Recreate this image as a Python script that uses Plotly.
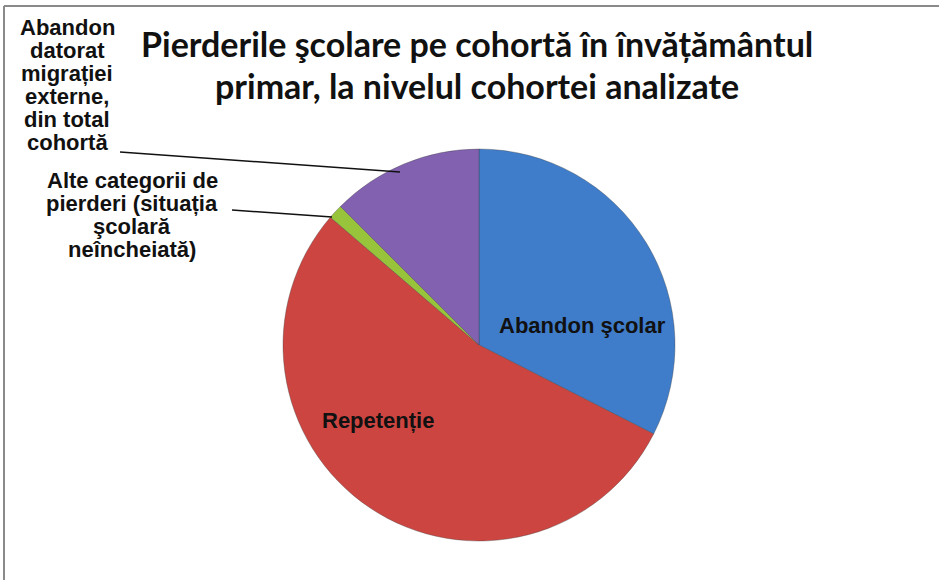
import plotly.graph_objects as go

# ---- data ----
categories = [
    "Abandon şcolar",
    "Repetenție",
    "Alte categorii de pierderi (situația şcolară neîncheiată)",
    "Abandon datorat migrației externe, din total cohortă",
]
values = [32.5, 53.8, 1.2, 12.5]
colors = ["#3f7dca", "#cc4540", "#98c43c", "#8161b0"]

title_lines = ["Pierderile şcolare pe cohortă în învățământul",
               "primar, la nivelul cohortei analizate"]
label_migr_lines = ["Abandon", "datorat", "migrației", "externe,", "din total", "cohortă"]
label_alte_lines = ["Alte categorii de", "pierderi (situația", "şcolară", "neîncheiată)"]

W, H = 939, 580


def px(x):
    return x / W


def py(y):
    return (H - y) / H


fig = go.Figure()
fig.add_trace(go.Pie(
    labels=categories,
    values=values,
    sort=False,
    direction="clockwise",
    rotation=0,
    marker=dict(colors=colors, line=dict(color="rgba(60,60,60,0.35)", width=1)),
    textinfo="none",
    hoverinfo="label+percent",
    showlegend=False,
    domain=dict(x=[px(283), px(675)], y=[py(541), py(149)]),
))

# hidden axes in pixel coordinates
fig.update_layout(
    xaxis=dict(range=[0, W], visible=False, fixedrange=True),
    yaxis=dict(range=[H, 0], visible=False, fixedrange=True),
)

lab_font = dict(family="Liberation Sans, Arial, sans-serif", size=22, color="#111111")

fig.add_annotation(x=582, y=325, xref="x", yref="y", text="<b>Abandon şcolar</b>",
                   showarrow=False, font=lab_font)
fig.add_annotation(x=378, y=420, xref="x", yref="y", text="<b>Repetenție</b>",
                   showarrow=False, font=lab_font)

for i, line in enumerate(label_migr_lines):
    fig.add_annotation(x=67, y=27 + 23 * i, xref="x", yref="y", text="<b>" + line + "</b>",
                       showarrow=False, font=lab_font)
for i, line in enumerate(label_alte_lines):
    fig.add_annotation(x=132, y=180 + 23 * i, xref="x", yref="y", text="<b>" + line + "</b>",
                       showarrow=False, font=lab_font)

# title
title_font = dict(family="Lato, Open Sans, sans-serif", size=34, color="#111111")
for i, line in enumerate(title_lines):
    fig.add_annotation(x=477, y=43 + 42 * i, xref="x", yref="y", text="<b>" + line + "</b>",
                       showarrow=False, font=title_font)

# leader lines
fig.add_shape(type="line", xref="x", yref="y", x0=120, y0=152, x1=400, y1=172,
              line=dict(color="#111111", width=1.5))
fig.add_shape(type="line", xref="x", yref="y", x0=232, y0=210, x1=332, y1=217,
              line=dict(color="#111111", width=1.5))

# frame (top and left edges)
fig.add_shape(type="line", xref="x", yref="y", x0=4, y0=6, x1=W, y1=6,
              line=dict(color="#8a8a8a", width=2))
fig.add_shape(type="line", xref="x", yref="y", x0=4, y0=6, x1=4, y1=H,
              line=dict(color="#8a8a8a", width=2))

fig.update_layout(
    width=W, height=H,
    margin=dict(l=0, r=0, t=0, b=0),
    paper_bgcolor="white", plot_bgcolor="white",
)

fig.write_html(
    "out.html",
    config={"displayModeBar": False},
    post_script="document.body.style.margin='0';document.body.style.overflow='hidden';",
)
